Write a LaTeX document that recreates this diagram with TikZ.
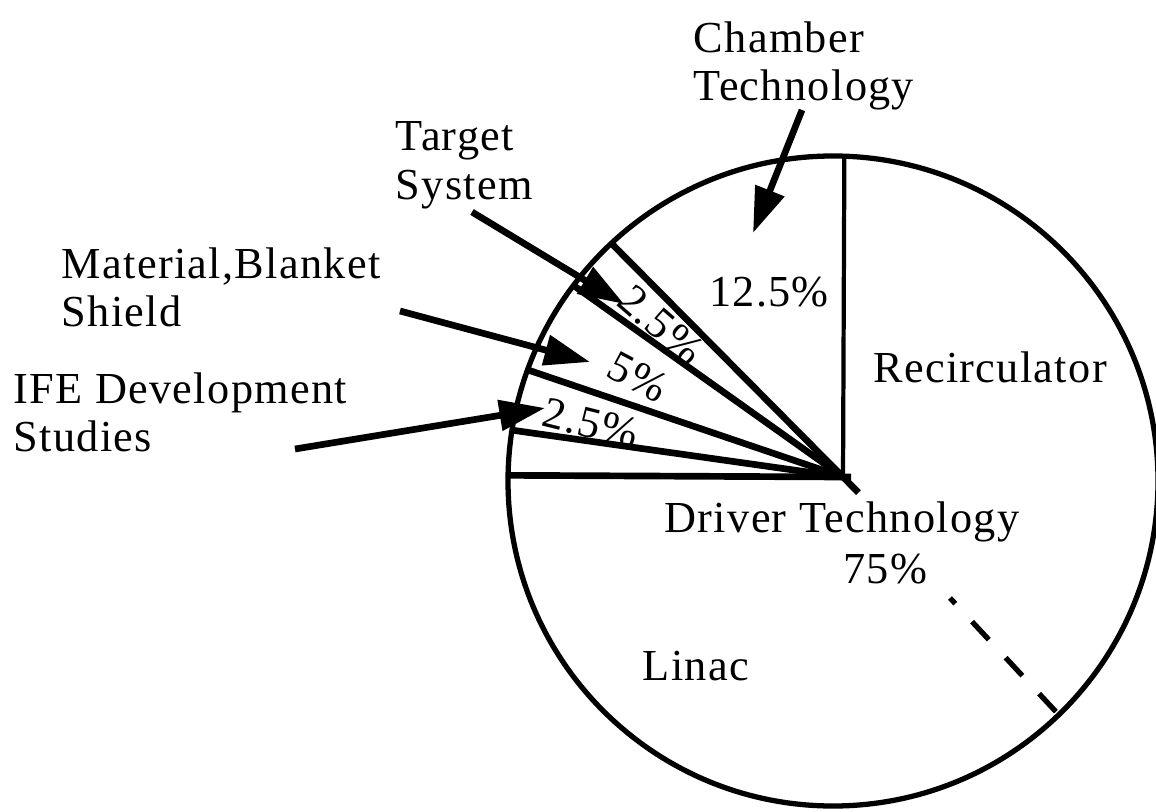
\documentclass[tikz,border=0pt]{standalone}
\usepackage{fontspec}
\setmainfont{Liberation Serif}[LetterSpace=3]
\usetikzlibrary{arrows.meta,calc}

\tikzset{
  lbl/.style={font=\fontsize{12.6}{13.8}\selectfont, inner sep=0pt},
  pointer/.style={line width=1.9pt, -{Triangle[length=13pt,width=8.5pt]}},
  cut/.style={line width=1.9pt},
}

\begin{document}
\begin{tikzpicture}[scale=1]
\useasboundingbox (0,0) rectangle (11.56,8.11);

\coordinate (C) at (8.33, 3.30);
\coordinate (O) at (8.43, 3.34);
\coordinate (A) at ($(C)+(88:3.25)$);
\coordinate (B) at ($(C)+(133:3.25)$);
\coordinate (D) at ($(C)+(143:3.25)$);
\coordinate (E) at ($(C)+(160:3.25)$);
\coordinate (F) at ($(C)+(171:3.25)$);
\coordinate (G) at ($(C)+(179:3.25)$);
\coordinate (H) at ($(C)+(-46:3.25)$);
\coordinate (Q) at (9.50, 2.13);

\draw[line width=1.5pt] (C) circle (3.25);

\draw[line width=1.2pt] (O) -- (A);
\draw[cut] ($(O)!-0.22cm!(B)$) -- (B);
\draw[cut] (O) -- (D);
\draw[cut] (O) -- (E);
\draw[cut] (O) -- (F);
\draw[cut] ($(O)!-0.08cm!(G)$) -- (G);
\draw[line width=1.5pt, dash pattern=on 7pt off 7pt, dash phase=4.8pt] (Q) -- (H);

\node[lbl, anchor=north west, align=left] (chamber) at (6.93, 7.90) {Chamber\\Technology};
\node[lbl, anchor=north west, align=left] (target) at (3.95, 6.90) {Target\\System};
\node[lbl, anchor=north west, align=left] (material) at (0.61, 5.64) {Material,Blanket\\Shield};
\node[lbl, anchor=north west, align=left] (ife) at (0.13, 4.39) {IFE Development\\Studies};

\node[lbl, anchor=base] (champct) at (7.69, 5.04) {12.5\%};
\node[lbl, rotate=-41] (tgtpct) at (6.61, 4.86) {2.5\%};
\node[lbl, rotate=-28] (matpct) at (6.38, 4.34) {5\%};
\node[lbl, rotate=-14] (ifepct) at (5.91, 3.88) {2.5\%};
\node[lbl, anchor=base] (recirc) at (9.90, 4.29) {Recirculator};
\node[lbl, anchor=base] (driver) at (8.42, 2.79) {Driver Technology};
\node[lbl, anchor=base] (drvpct) at (8.85, 2.28) {75\%};
\node[lbl, anchor=base] (linac) at (6.96, 1.31) {Linac};

\coordinate (chamtail) at (8.02, 7.01);
\coordinate (chamtip) at (7.53, 5.78);
\coordinate (tgttail) at (4.72, 5.99);
\coordinate (tgttip) at (6.24, 5.07);
\coordinate (mattail) at (4.00, 5.00);
\coordinate (mattip) at (5.90, 4.49);
\coordinate (ifetail) at (2.95, 3.62);
\coordinate (ifetip) at (5.45, 4.03);

\draw[pointer] (chamtail) -- (chamtip);
\draw[pointer] (tgttail) -- (tgttip);
\draw[pointer] (mattail) -- (mattip);
\draw[pointer] (ifetail) -- (ifetip);

\end{tikzpicture}
\end{document}
